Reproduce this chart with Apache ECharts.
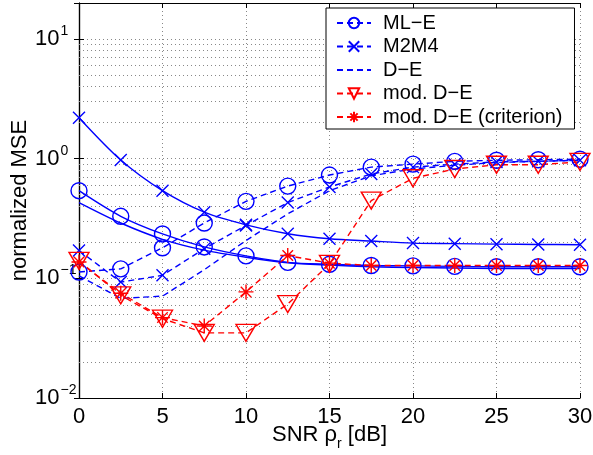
<!DOCTYPE html>
<html>
<head>
<meta charset="utf-8">
<script src="https://cdn.jsdelivr.net/npm/echarts@6/dist/echarts.min.js"></script>
<style>
html, body { margin: 0; padding: 0; background: #fff; }
#main { width: 593px; height: 455px; }
</style>
</head>
<body>
<div id="main"></div>
<script>
// SNR points in dB
const snr = [0, 2.5, 5, 7.5, 10, 12.5, 15, 17.5, 20, 22.5, 25, 27.5, 30];

// solid curves (no legend entry)
const mlSolid = [0.54, 0.33, 0.235, 0.183, 0.154, 0.136, 0.131, 0.128, 0.127, 0.126, 0.125, 0.125, 0.125];
const m2m4Solid = [2.2, 0.975, 0.54, 0.357, 0.28, 0.236, 0.214, 0.205, 0.197, 0.195, 0.193, 0.192, 0.191];
const plainSolid = [0.43, 0.29, 0.212, 0.172, 0.15, 0.135, 0.129, 0.125, 0.123, 0.122, 0.121, 0.121, 0.121];

// dashed curves (legend)
const mlE = [0.113, 0.12, 0.18, 0.29, 0.44, 0.59, 0.73, 0.85, 0.9, 0.95, 0.97, 0.98, 0.99];
const m2m4 = [0.171, 0.093, 0.106, 0.177, 0.277, 0.43, 0.58, 0.745, 0.85, 0.9, 0.94, 0.95, 0.97];
const dE = [0.105, 0.068, 0.071, 0.118, 0.207, 0.346, 0.54, 0.72, 0.82, 0.88, 0.93, 0.95, 0.97];
const modDE = [0.14, 0.072, 0.046, 0.035, 0.035, 0.061, 0.132, 0.447, 0.686, 0.82, 0.89, 0.89, 0.94];
const modDECrit = [0.137, 0.075, 0.047, 0.04, 0.077, 0.155, 0.134, 0.128, 0.128, 0.128, 0.128, 0.128, 0.128];

const legendNames = ['ML\u2212E', 'M2M4', 'D\u2212E', 'mod. D\u2212E', 'mod. D\u2212E (criterion)'];
const xTicks = [0, 5, 10, 15, 20, 25, 30];
const decades = [0.01, 0.1, 1, 10];

const font = 'Liberation Sans, Arial, Helvetica, sans-serif';
const blue = '#0000ff';
const red = '#ff0000';

// minor grid values 2..9 in each decade
let minorVals = [];
decades.forEach(d => {
    for (let k = 2; k <= 9; k++) {
        if (d * k < 20) minorVals.push(+(d * k).toPrecision(3));
    }
});

const symX = 'path://M0,0L10,10M10,0L0,10';
const symStar = 'path://M5,0L5,10M0,5L10,5M1.5,1.5L8.5,8.5M8.5,1.5L1.5,8.5';
const symTri = 'path://M0,0L20,0L10,17Z';

function pairs(vals) {
    return snr.map((x, i) => [x, vals[i]]);
}

function mk(name, vals, color, dashed, symbol, size) {
    return {
        name: name,
        type: 'line',
        data: pairs(vals),
        symbol: symbol || 'none',
        symbolSize: size || 10,
        showAllSymbol: true,
        smooth: dashed ? false : 0.3,
        z: 3,
        lineStyle: { color: color, width: 1.4, type: dashed ? [6, 4] : 'solid' },
        itemStyle: { color: 'none', borderColor: color, borderWidth: symbol ? 1.4 : 0 },
        emphasis: { disabled: true }
    };
}

let series = [
    mk('solidPlain', plainSolid, blue, false),
    mk('solidML', mlSolid, blue, false, 'circle', 16),
    mk('solidM2M4', m2m4Solid, blue, false, symX, 12),
    mk(legendNames[0], mlE, blue, true, 'circle', 16),
    mk(legendNames[1], m2m4, blue, true, symX, 12),
    mk(legendNames[2], dE, blue, true),
    mk(legendNames[3], modDE, red, true, symTri, [20, 17]),
    mk(legendNames[4], modDECrit, red, true, symStar, 15)
];

// minor grid lines of the log axis
series.push({
    name: 'minorGrid',
    type: 'line',
    data: [],
    silent: true,
    z: 1,
    markLine: {
        silent: true,
        z: 1,
        animation: false,
        symbol: 'none',
        label: { show: false },
        lineStyle: { color: '#888', width: 1, type: [1, 3] },
        data: minorVals.map(v => ({ yAxis: v }))
    }
});

const chart = echarts.init(document.getElementById('main'));

const gridLine = { show: true, lineStyle: { color: '#888', width: 1, type: [1, 3] } };

chart.setOption({
    animation: false,
    backgroundColor: '#fff',
    textStyle: { fontFamily: font },
    grid: { left: 79, right: 13, top: 3, bottom: 57, containLabel: false, outerBoundsMode: 'none' },
    legend: {
        data: legendNames,
        orient: 'vertical',
        left: 326,
        top: 8,
        padding: [5, 12, 2, 10],
        itemWidth: 34,
        itemHeight: 13,
        itemGap: 3.5,
        borderColor: '#000',
        borderWidth: 1,
        borderRadius: 0,
        backgroundColor: '#fff',
        selectedMode: false,
        textStyle: { fontFamily: font, fontSize: 20, lineHeight: 20, color: '#000', padding: [0, 0, 0, 7] }
    },
    xAxis: [{
        type: 'value',
        min: 0,
        max: 30,
        interval: 5,
        name: '{a|SNR \u03c1}{s|r}{a| [dB]}',
        nameLocation: 'middle',
        nameGap: 26,
        nameMoveOverlap: false,
        nameTextStyle: {
            rich: {
                a: { fontFamily: font, fontSize: 22, lineHeight: 22, color: '#000', verticalAlign: 'top' },
                s: { fontFamily: font, fontSize: 14, lineHeight: 14, color: '#000', verticalAlign: 'top', padding: [13, 0, 0, 0] }
            }
        },
        axisLine: { show: true, lineStyle: { color: '#000', width: 1.2 } },
        axisTick: { show: true, inside: true, length: 5, lineStyle: { color: '#000' } },
        axisLabel: { fontFamily: font, fontSize: 22, color: '#000', margin: 8,
            customValues: xTicks },
        splitLine: gridLine
    }, {
        type: 'value',
        position: 'top',
        min: 0,
        max: 30,
        interval: 5,
        axisLine: { show: true, lineStyle: { color: '#000', width: 1.2 } },
        axisTick: { show: true, inside: true, length: 5, lineStyle: { color: '#000' } },
        axisLabel: { show: false },
        splitLine: { show: false }
    }],
    yAxis: [{
        type: 'log',
        logBase: 10,
        min: 0.01,
        max: 20,
        name: 'normalized MSE',
        nameLocation: 'middle',
        nameGap: 48,
        nameMoveOverlap: false,
        nameTextStyle: { fontFamily: font, fontSize: 22, color: '#000' },
        axisLine: { show: true, lineStyle: { color: '#000', width: 1.2 } },
        axisTick: { show: true, inside: true, length: 5, lineStyle: { color: '#000' } },
        axisLabel: {
            margin: 44,
            align: 'left',
            formatter: function (v) {
                const l = Math.log10(v);
                const e = Math.round(l);
                if (Math.abs(l - e) > 1e-6) return '';
                return '{b|10}{e|' + (e < 0 ? '\u2212' + (-e) : e) + '}';
            },
            rich: {
                b: { fontFamily: font, fontSize: 22, lineHeight: 22, color: '#000', verticalAlign: 'bottom' },
                e: { fontFamily: font, fontSize: 14, lineHeight: 14, color: '#000', verticalAlign: 'bottom', padding: [0, 0, 12, 1] }
            }
        },
        splitLine: gridLine
    }, {
        type: 'log',
        logBase: 10,
        min: 0.01,
        max: 20,
        position: 'right',
        axisLine: { show: true, lineStyle: { color: '#000', width: 1.2 } },
        axisTick: { show: true, inside: true, length: 5, lineStyle: { color: '#000' } },
        axisLabel: { show: false },
        splitLine: { show: false }
    }],
    series: series
});
</script>
</body>
</html>
